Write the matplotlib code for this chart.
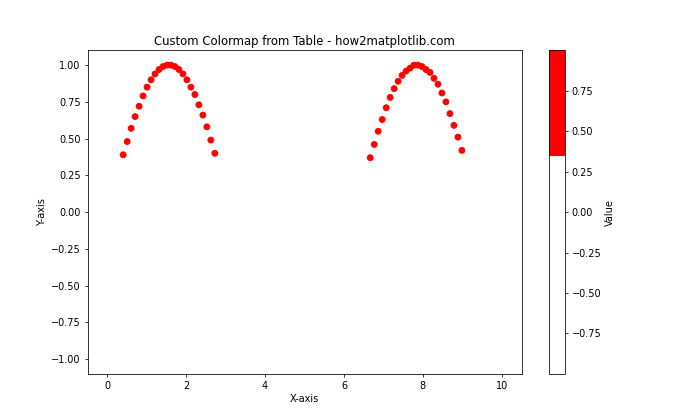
import matplotlib
matplotlib.use("Agg")
import matplotlib.pyplot as plt
from matplotlib.colors import ListedColormap

x_start, x_stop, n_points = 0.0, 10.0, 100
y_values = [0.00, 0.10, 0.20, 0.30, 0.39, 0.48, 0.57, 0.65, 0.72, 0.79,
            0.85, 0.90, 0.94, 0.97, 0.99, 1.00, 1.00, 0.99, 0.97, 0.94,
            0.90, 0.85, 0.80, 0.73, 0.66, 0.58, 0.49, 0.40, 0.31, 0.21,
            0.11, 0.01, -0.09, -0.19, -0.29, -0.38, -0.47, -0.56, -0.64, -0.71,
            -0.78, -0.84, -0.89, -0.93, -0.96, -0.99, -1.00, -1.00, -0.99, -0.97,
            -0.94, -0.90, -0.86, -0.80, -0.74, -0.67, -0.59, -0.50, -0.41, -0.32,
            -0.22, -0.12, -0.02, 0.08, 0.18, 0.28, 0.37, 0.46, 0.55, 0.63,
            0.71, 0.78, 0.84, 0.89, 0.93, 0.96, 0.98, 1.00, 1.00, 0.99,
            0.97, 0.95, 0.91, 0.87, 0.81, 0.75, 0.67, 0.59, 0.51, 0.42,
            0.33, 0.23, 0.13, 0.03, -0.07, -0.17, -0.27, -0.36, -0.45, -0.54]
step = (x_stop - x_start) / (n_points - 1)
x_values = [x_start + i * step for i in range(n_points)]

cmap = ListedColormap(["white"] * 27 + ["red"] * 13)

fig, ax = plt.subplots(figsize=(10, 6), dpi=70)
sc = ax.scatter(x_values, y_values, c=y_values, cmap=cmap, vmin=-0.9996, vmax=0.9996)
cb = fig.colorbar(sc, ax=ax)
cb.set_label("Value")
cb.set_ticks([-0.75, -0.5, -0.25, 0, 0.25, 0.5, 0.75])
ax.set_title("Custom Colormap from Table - how2matplotlib.com")
ax.set_xlabel("X-axis")
ax.set_ylabel("Y-axis")
fig.savefig("out.png")
